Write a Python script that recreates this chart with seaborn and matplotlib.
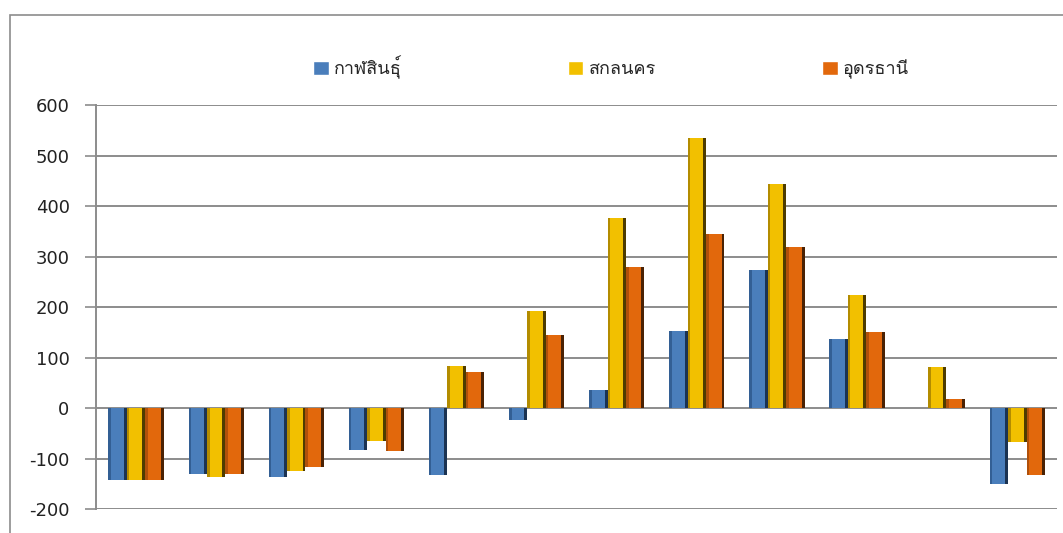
import matplotlib
matplotlib.use("Agg")
import matplotlib.pyplot as plt
import seaborn as sns
import pandas as pd
from matplotlib import font_manager, ft2font
from matplotlib.patches import Rectangle

# values
groups = [str(i) for i in range(1, 13)]
series = ["กาฬสินธุ์", "สกลนคร", "อุดรธานี"]
kalasin = [-142, -131, -136, -83, -132, -24, 36, 153, 273, 136, 0, -150]
sakon = [-142, -136, -124, -66, 83, 192, 376, 535, 443, 223, 82, -67]
udon = [-142, -131, -116, -86, 71, 145, 280, 344, 318, 150, 17, -132]
colors = ["#4A7EBB", "#F2C000", "#E2680C"]
left_shade = ["#335F94", "#B38C00", "#B0500A"]
right_shade = ["#1B3352", "#4E3C00", "#4A2204"]
yticks = [-200, -100, 0, 100, 200, 300, 400, 500, 600]


def find_thai_font():
    # pick any installed family that has Thai glyphs
    for f in font_manager.fontManager.ttflist:
        try:
            ft = ft2font.FT2Font(f.fname)
            if 0x0E01 in ft.get_charmap() and 0x0E2C in ft.get_charmap():
                return f.name
        except Exception:
            continue
    return "DejaVu Sans"


df = pd.DataFrame({
    "group": groups * 3,
    "province": [series[0]] * 12 + [series[1]] * 12 + [series[2]] * 12,
    "value": kalasin + sakon + udon,
})

sns.set_style("white")
thai = find_thai_font()
plt.rcParams["font.family"] = ["DejaVu Sans", thai]

fig = plt.figure(figsize=(10.63, 5.33), dpi=100)
ax = fig.add_axes([0.0903, 0.045, 0.9044, 0.758])

sns.barplot(data=df, x="group", y="value", hue="province", palette=colors,
            width=0.69, gap=0, ax=ax, saturation=1, legend=True)

# rough bevel: darker strips on the sides of every bar
for cont, ls, rs in zip(ax.containers, left_shade, right_shade):
    for bar in cont:
        bar.set_linewidth(0)
        x, y = bar.get_x(), bar.get_y()
        w, h = bar.get_width(), bar.get_height()
        if h == 0:
            continue
        ax.add_patch(Rectangle((x, y), w * 0.14, h, color=ls, lw=0, zorder=bar.get_zorder()))
        ax.add_patch(Rectangle((x + w * 0.84, y), w * 0.16, h, color=rs, lw=0, zorder=bar.get_zorder()))

ax.set_ylim(-200, 600)
ax.set_xlim(-0.5, 11.5)
ax.set_yticks(yticks)
ax.set_yticklabels([str(v) for v in yticks], fontsize=13, color="#222222")
ax.set_xticks([])
ax.set_xlabel("")
ax.set_ylabel("")
ax.yaxis.grid(True, color="#8C8C8C", linewidth=1.4)
ax.set_axisbelow(True)
ax.tick_params(axis="y", left=True, length=8, width=1.2, color="#8C8C8C", pad=11)
for s in ["top", "right", "bottom"]:
    ax.spines[s].set_visible(False)
ax.spines["left"].set_color("#8C8C8C")
ax.spines["left"].set_linewidth(1.4)

handles, labels = ax.get_legend_handles_labels()
ax.get_legend().remove()
fig.legend(handles, labels, loc="center", bbox_to_anchor=(0.575, 0.874), ncol=3,
           frameon=False, handlelength=0.85, handleheight=0.85, handletextpad=0.3,
           columnspacing=9.2, prop={"family": [thai, "DejaVu Sans"], "size": 13})

# outer chart border
fig.patches.append(Rectangle((10 / 1063, -0.1), 1.2, 1 - 15 / 533 + 0.1,
                             transform=fig.transFigure, fill=False,
                             edgecolor="#8C8C8C", linewidth=1.2))

fig.savefig("out.png", dpi=100)
